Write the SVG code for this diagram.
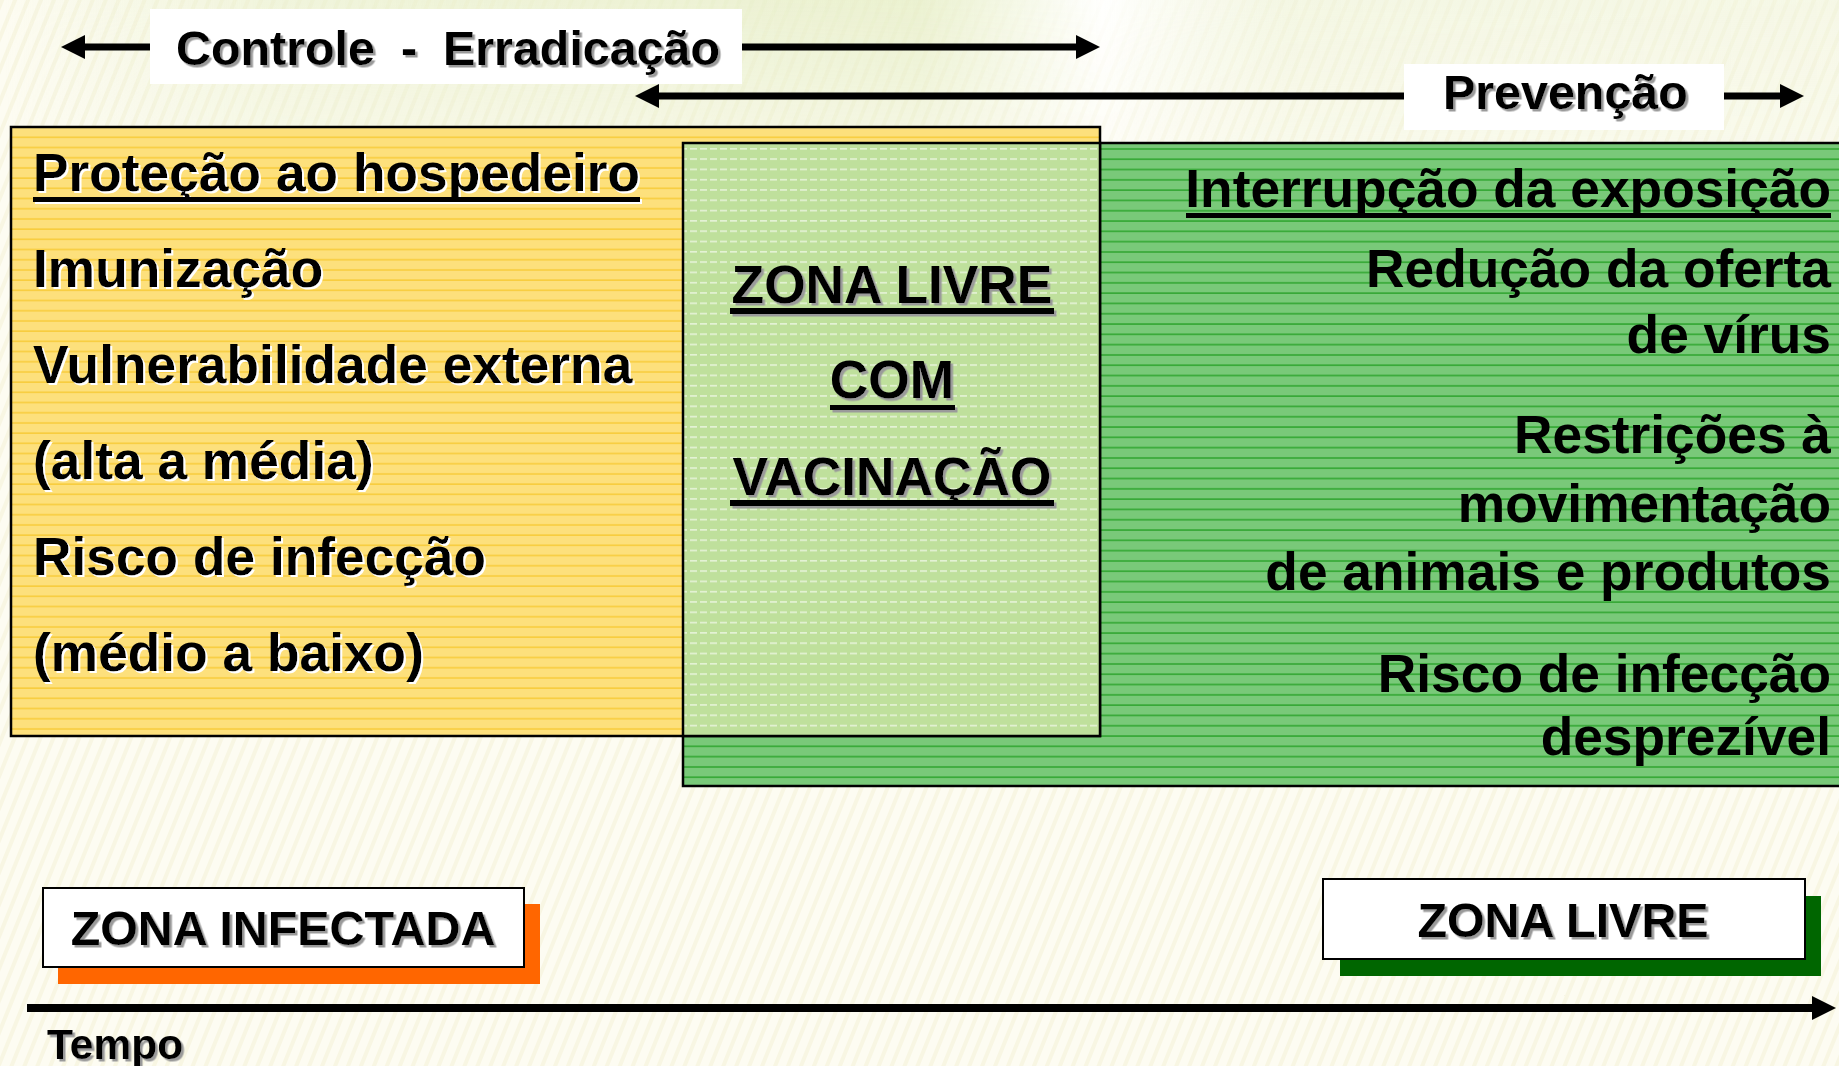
<svg xmlns="http://www.w3.org/2000/svg" width="1839" height="1066" viewBox="0 0 1839 1066">
<style>
.t{font-family:"Liberation Sans",Arial,sans-serif;font-weight:bold;fill:#000}
.b53{font-size:53.3px}
.b48{font-size:48.4px}
.ws{filter:url(#shW)}
.gs{filter:url(#shG)}
.box{stroke:#000;stroke-width:2.5}
.conn{stroke:#000;fill:none}
</style>
<defs>
<filter id="shW" x="-5%" y="-20%" width="110%" height="140%"><feDropShadow dx="2" dy="2" stdDeviation="0" flood-color="#ffffff" flood-opacity="1"/></filter>
<filter id="shG" x="-5%" y="-20%" width="110%" height="140%"><feDropShadow dx="2.5" dy="2.5" stdDeviation="0.3" flood-color="#9a9a9a" flood-opacity="1"/></filter>
<pattern id="bgStripe" width="12" height="12" patternUnits="userSpaceOnUse" patternTransform="rotate(22)">
<rect width="12" height="12" fill="#fdfcf2"/>
<rect width="4" height="12" fill="#f8f6e3"/>
</pattern>
<linearGradient id="topTint" x1="0" y1="0" x2="1" y2="0">
<stop offset="0" stop-color="#e8efcc" stop-opacity="0"/>
<stop offset="0.15" stop-color="#e8efcc" stop-opacity="0.6"/>
<stop offset="0.5" stop-color="#e6eec8" stop-opacity="0.8"/>
<stop offset="0.6" stop-color="#ffffff" stop-opacity="0.9"/>
<stop offset="0.7" stop-color="#eef3da" stop-opacity="0.6"/>
<stop offset="1" stop-color="#eef3da" stop-opacity="0.5"/>
</linearGradient>
<linearGradient id="topFade" x1="0" y1="0" x2="0" y2="1">
<stop offset="0" stop-color="#fff" stop-opacity="1"/>
<stop offset="1" stop-color="#fff" stop-opacity="0"/>
</linearGradient>
<mask id="fadeMask"><rect x="0" y="0" width="1839" height="260" fill="url(#topFade)"/></mask>
<pattern id="yStripe" width="20" height="10.2" patternUnits="userSpaceOnUse">
<rect width="20" height="10.2" fill="#fde07c"/>
<rect y="4" width="20" height="1.5" fill="#f8cc3a"/>
</pattern>
<pattern id="gStripe" width="20" height="10.3" patternUnits="userSpaceOnUse">
<rect width="20" height="10.3" fill="#79c979"/>
<rect y="4" width="20" height="1.5" fill="#2ea52e"/>
</pattern>
<pattern id="lgStripe" width="10" height="10.3" patternUnits="userSpaceOnUse">
<rect width="10" height="10.3" fill="#bfe09c"/>
<rect y="4" width="7" height="1.2" fill="#f2f9ea"/>
</pattern>
<marker id="ah" viewBox="0 0 24 24" refX="2" refY="12" markerWidth="24" markerHeight="24" markerUnits="userSpaceOnUse" orient="auto-start-reverse">
<path d="M0,0 L24,12 L0,24 z" fill="#000"/>
</marker>
</defs>

<g id="background">
<rect width="1839" height="1066" fill="url(#bgStripe)"/>
<rect width="1839" height="260" fill="url(#topTint)" mask="url(#fadeMask)"/>
</g>

<g id="connectors">
<line class="conn" x1="83" y1="47" x2="1078" y2="47" stroke-width="7" marker-start="url(#ah)" marker-end="url(#ah)"/>
<line class="conn" x1="657" y1="96" x2="1782" y2="96" stroke-width="7" marker-start="url(#ah)" marker-end="url(#ah)"/>
<line class="conn" x1="27" y1="1008" x2="1814" y2="1008" stroke-width="8" marker-end="url(#ah)"/>
</g>

<g id="label-controle">
<rect x="150" y="9" width="592" height="75" fill="#fff"/>
<text class="t b48 gs" y="65"><tspan x="176">Controle</tspan><tspan x="401">-</tspan><tspan x="443">Erradicação</tspan></text>
</g>

<g id="label-prevencao">
<rect x="1404" y="64" width="320" height="66" fill="#fff"/>
<text class="t b48 gs" x="1443" y="109">Prevenção</text>
</g>

<g id="zona-livre-area">
<rect class="box" x="683" y="143" width="1170" height="643" fill="url(#gStripe)"/>
<g class="t b53" text-anchor="end">
<text x="1831" y="207">Interrupção da exposição</text>
<rect x="1186" y="213" width="645" height="5" fill="#000"/>
<text x="1831" y="287">Redução da oferta</text>
<text x="1831" y="353">de vírus</text>
<text x="1831" y="453">Restrições à</text>
<text x="1831" y="522">movimentação</text>
<text x="1831" y="590">de animais e produtos</text>
<text x="1831" y="692">Risco de infecção</text>
<text x="1831" y="755">desprezível</text>
</g>
</g>

<g id="zona-infectada-area">
<rect class="box" x="11" y="127" width="1089" height="609" fill="url(#yStripe)"/>
<g class="t b53 ws">
<text x="33" y="191">Proteção ao hospedeiro</text>
<rect x="33" y="197" width="607" height="5" fill="#000"/>
<text x="33" y="287">Imunização</text>
<text x="33" y="383">Vulnerabilidade externa</text>
<text x="33" y="479">(alta a média)</text>
<text x="33" y="575">Risco de infecção</text>
<text x="33" y="671">(médio a baixo)</text>
</g>
</g>

<g id="zona-livre-com-vacinacao">
<rect class="box" x="683" y="143" width="417" height="593" fill="url(#lgStripe)"/>
<g class="t b53 gs" text-anchor="middle">
<text x="892" y="303">ZONA LIVRE</text>
<rect x="730" y="308" width="324" height="6" fill="#000"/>
<text x="892" y="398">COM</text>
<rect x="830" y="405" width="125" height="5" fill="#000"/>
<text x="892" y="495">VACINAÇÃO</text>
<rect x="730" y="500" width="324" height="6" fill="#000"/>
</g>
</g>

<g id="zona-infectada">
<rect x="58" y="904" width="482" height="80" fill="#ff6600"/>
<rect x="43" y="888" width="481" height="79" fill="#fff" stroke="#000" stroke-width="2"/>
<text class="t b48 gs" x="283" y="945" text-anchor="middle">ZONA INFECTADA</text>
</g>

<g id="zona-livre">
<rect x="1340" y="896" width="481" height="80" fill="#006600"/>
<rect x="1323" y="879" width="482" height="80" fill="#fff" stroke="#000" stroke-width="2"/>
<text class="t b48 gs" x="1563" y="937" text-anchor="middle">ZONA LIVRE</text>
</g>

<g id="tempo">
<text class="t gs" style="font-size:42.5px" x="47" y="1059">Tempo</text>
</g>
</svg>
